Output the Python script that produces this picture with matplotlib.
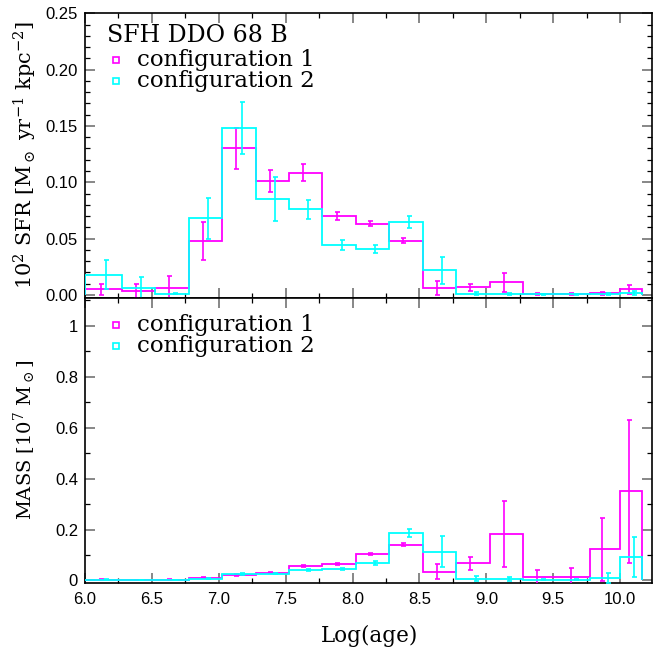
import numpy as np
import matplotlib
matplotlib.use("Agg")
import matplotlib.pyplot as plt
from matplotlib.ticker import MultipleLocator, FuncFormatter

plt.rcParams["mathtext.fontset"] = "dejavuserif"

# ---- data ----
edges = [6.0, 6.275, 6.525, 6.775, 7.025, 7.275, 7.525, 7.775, 8.025, 8.275,
         8.525, 8.775, 9.025, 9.275, 9.525, 9.775, 10.0, 10.165]

sfr1 = [0.0050, 0.0035, 0.0065, 0.0480, 0.1300, 0.1010, 0.1085, 0.0700, 0.0630,
        0.0480, 0.0060, 0.0068, 0.0110, 0.0008, 0.0008, 0.0015, 0.0048]
sfr1_err = [0.005, 0.006, 0.010, 0.017, 0.018, 0.0095, 0.0073, 0.0035, 0.0022,
            0.0022, 0.0065, 0.003, 0.008, 0.001, 0.001, 0.0015, 0.0036]
sfr2 = [0.0180, 0.0060, 0.0012, 0.0680, 0.1480, 0.0855, 0.0760, 0.0445, 0.0410,
        0.0648, 0.0220, 0.0012, 0.0008, 0.0006, 0.0006, 0.0010, 0.0018]
sfr2_err = [0.013, 0.010, 0.0008, 0.018, 0.023, 0.0195, 0.0082, 0.0043, 0.0037,
            0.005, 0.012, 0.001, 0.0008, 0.0006, 0.0006, 0.001, 0.002]

mass1 = [0.003, 0.002, 0.003, 0.010, 0.022, 0.031, 0.057, 0.065, 0.104,
         0.141, 0.035, 0.0675, 0.183, 0.0125, 0.015, 0.1225, 0.350]
mass1_err = [0.001, 0.001, 0.001, 0.002, 0.003, 0.003, 0.004, 0.004, 0.004,
             0.007, 0.031, 0.026, 0.130, 0.030, 0.032, 0.123, 0.280]
mass2 = [0.003, 0.002, 0.002, 0.007, 0.025, 0.027, 0.041, 0.044, 0.0675,
         0.187, 0.113, 0.006, 0.005, 0.002, 0.002, 0.0085, 0.092]
mass2_err = [0.001, 0.001, 0.001, 0.002, 0.003, 0.003, 0.004, 0.004, 0.007,
             0.0145, 0.062, 0.010, 0.008, 0.002, 0.002, 0.020, 0.078]

labels = ["configuration 1", "configuration 2"]
colors = ["#ff00ff", "#00ffff"]
title_text = "SFH DDO 68 B"

# ---- figure ----
fig = plt.figure(figsize=(6.62, 6.54), dpi=100)
L, W = 85 / 662, 567.3 / 662
H = 285 / 654
ax1 = fig.add_axes([L, 1 - 297.7 / 654, W, H])
ax2 = fig.add_axes([L, 1 - 582.7 / 654, W, H])

serif = ["DejaVu Serif"]
tickfont = "Liberation Sans"

edges_a = np.array(edges)
centers = 0.5 * (edges_a[:-1] + edges_a[1:])
offs = [-0.02, 0.02]

for ax, series in ((ax1, [(sfr1, sfr1_err), (sfr2, sfr2_err)]),
                   (ax2, [(mass1, mass1_err), (mass2, mass2_err)])):
    for (vals, errs), col, off in zip(series, colors, offs):
        ax.stairs(vals, edges, color=col, lw=1.3, zorder=3)
        ax.errorbar(centers + off, vals, yerr=errs, fmt="none", ecolor=col,
                    elinewidth=1.2, capsize=1.8, capthick=1.2, zorder=3)
    ax.set_xlim(6.0, 10.24)
    ax.xaxis.set_major_locator(MultipleLocator(0.5))
    ax.xaxis.set_minor_locator(MultipleLocator(0.25))
    ax.tick_params(which="both", direction="in", top=True, right=True)
    ax.tick_params(which="major", length=7, width=1.2, color="0.45")
    ax.tick_params(which="minor", length=3.5, width=0.9, color="black")
    ax.tick_params(axis="y", labelsize=12, pad=5)
    ax.tick_params(axis="x", labelsize=12, pad=7)
    for s in ax.spines.values():
        s.set_linewidth(1.2)

ax1.set_ylim(-0.0025, 0.2505)
ax1.yaxis.set_major_locator(MultipleLocator(0.05))
ax1.yaxis.set_minor_locator(MultipleLocator(0.01))
ax1.yaxis.set_major_formatter(FuncFormatter(lambda v, p: f"{v:.2f}"))
ax1.tick_params(labelbottom=False)

ax2.set_ylim(-0.009, 1.111)
ax2.yaxis.set_major_locator(MultipleLocator(0.2))
ax2.yaxis.set_minor_locator(MultipleLocator(0.1))
ax2.yaxis.set_major_formatter(FuncFormatter(lambda v, p: f"{v:g}"))
ax2.xaxis.set_major_formatter(FuncFormatter(lambda v, p: f"{v:.1f}"))

for ax in (ax1, ax2):
    for lab in ax.get_xticklabels() + ax.get_yticklabels():
        lab.set_fontfamily(tickfont)

# titles / legends
fig.text(107 / 662, 1 - 36 / 654, title_text, fontsize=17, family=serif,
         va="center", ha="left")
for ys in ([60, 81], [325, 346]):
    for lab, col, y in zip(labels, colors, ys):
        fig.lines.append(plt.Line2D([115.7 / 662], [1 - y / 654], marker="s",
                                    markersize=5, mfc="none", mec=col, mew=1.2,
                                    transform=fig.transFigure))
        fig.text(137 / 662, 1 - y / 654, lab, fontsize=16.5, family=serif,
                 va="center", ha="left")

fig.text(25 / 662, 1 - 155 / 654,
         r"10$^2$ SFR [M$_\odot$ yr$^{-1}$ kpc$^{-2}$]", rotation=90,
         fontsize=15, family=serif, va="center", ha="center")
fig.text(25 / 662, 1 - 440 / 654, r"MASS [10$^7$ M$_\odot$]", rotation=90,
         fontsize=14, family=serif, va="center", ha="center")
fig.text(370 / 662, 1 - 636 / 654, "Log(age)", fontsize=15.5, family=serif,
         va="center", ha="center")

fig.savefig("out.png", dpi=100)
